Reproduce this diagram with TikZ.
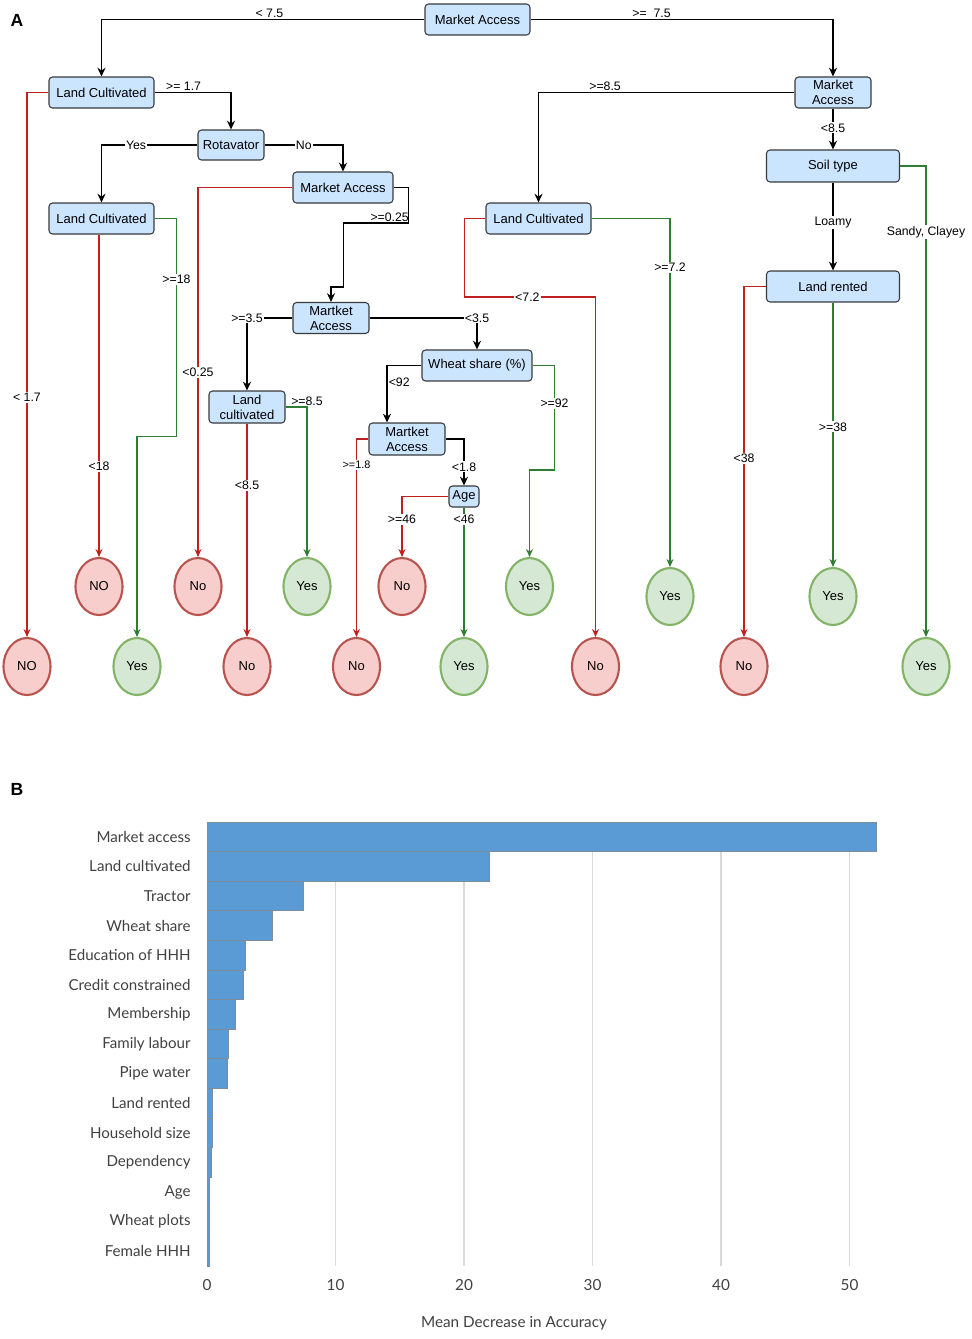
\documentclass[tikz,border=0pt]{standalone}
\usepackage{fontspec}
\setmainfont{Liberation Sans}
\newfontfamily\chartfont{Lato}
\usepackage{xcolor}
\usetikzlibrary{shapes.geometric,arrows.meta,positioning}

\definecolor{splitfill}{HTML}{CCE5FF}
\definecolor{splitline}{HTML}{36393D}
\definecolor{nofill}{HTML}{F8CECC}
\definecolor{noline}{HTML}{B85450}
\definecolor{yesfill}{HTML}{D5E8D4}
\definecolor{yesline}{HTML}{82B366}
\definecolor{noedge}{HTML}{C0201E}
\definecolor{yesedge}{HTML}{2E7D32}
\definecolor{barblue}{HTML}{5B9BD5}
\definecolor{barline}{HTML}{7F8C99}
\definecolor{gridgray}{HTML}{D9D9D9}
\definecolor{labelgray}{HTML}{404040}

\tikzset{
  split/.style={draw=splitline, fill=splitfill, rounded corners=2pt, line width=0.6pt,
    inner sep=0pt, align=center, font=\fontsize{7.4}{8.5}\selectfont},
  leafno/.style={ellipse, draw=noline, fill=nofill, line width=1.2pt, inner sep=0pt,
    minimum width=0.94cm, minimum height=1.14cm, font=\fontsize{7.4}{8.5}\selectfont},
  leafyes/.style={leafno, draw=yesline, fill=yesfill},
  cond/.style={fill=white, inner sep=0.6pt, font=\fontsize{7}{8}\selectfont},
  blk/.style={draw=black, line width=0.8pt, -{Stealth[length=5pt,width=4.6pt]}},
  noarc/.style={draw=noedge, line width=0.7pt, -{Stealth[length=4.5pt,width=4pt]}},
  yesarc/.style={draw=yesedge, line width=0.7pt, -{Stealth[length=4.5pt,width=4pt]}},
  bar/.style={fill=barblue, draw=barline, line width=0.4pt},
  gridline/.style={draw=gridgray, line width=0.6pt},
  barlabel/.style={anchor=east, inner sep=0pt, text=labelgray, font=\chartfont\fontsize{8.6}{10}\selectfont},
  ticklabel/.style={text=labelgray, font=\chartfont\fontsize{8.7}{10}\selectfont},
  panel/.style={font=\bfseries\fontsize{10}{12}\selectfont}
}

\begin{document}
\begin{tikzpicture}[x=0.02cm, y=-0.02cm]
    \useasboundingbox (0,0) rectangle (972,1339);

    % panel A: decision tree
    \node[panel] (panelA) at (17,20) {A};

    \node[split, minimum width=2.1cm, minimum height=0.62cm] (root) at (477.5,19.5) {Market Access};
    \node[split, minimum width=2.1cm, minimum height=0.62cm] (L1) at (101.5,92.5) {Land Cultivated};
    \node[split, minimum width=1.52cm, minimum height=0.62cm] (R1) at (833,92.5) {Market\\Access};
    \node[split, minimum width=1.32cm, minimum height=0.6cm] (rot) at (231,145) {Rotavator};
    \node[split, minimum width=2.1cm, minimum height=0.62cm] (L2) at (101.5,218.5) {Land Cultivated};
    \node[split, minimum width=2.0cm, minimum height=0.62cm] (M1) at (343,187.5) {Market Access};
    \node[split, minimum width=2.1cm, minimum height=0.62cm] (R2) at (538.5,218.5) {Land Cultivated};
    \node[split, minimum width=2.66cm, minimum height=0.64cm] (soil) at (833,166) {Soil type};
    \node[split, minimum width=2.66cm, minimum height=0.62cm] (rent) at (833,286.5) {Land rented};
    \node[split, minimum width=1.52cm, minimum height=0.62cm] (M2) at (331,318) {Martket\\Access};
    \node[split, minimum width=2.2cm, minimum height=0.62cm] (ws) at (477,365.5) {Wheat share (\%)};
    \node[split, minimum width=1.52cm, minimum height=0.64cm] (M3) at (247,407) {Land\\cultivated};
    \node[split, minimum width=1.52cm, minimum height=0.64cm] (M4) at (407,439) {Martket\\Access};
    \node[split, minimum width=0.6cm, minimum height=0.42cm] (age) at (464,496.5) {Age};

    % leaves
    \node[leafno] (noA) at (27,666.5) {NO};
    \node[leafno] (noB) at (99,586.5) {NO};
    \node[leafyes] (yesA) at (137,666.5) {Yes};
    \node[leafno] (noC) at (198,586.5) {No};
    \node[leafno] (noD) at (247,666.5) {No};
    \node[leafyes] (yesB) at (307,586.5) {Yes};
    \node[leafno] (noE) at (356.5,666.5) {No};
    \node[leafno] (noF) at (402,586.5) {No};
    \node[leafyes] (yesD) at (464,666.5) {Yes};
    \node[leafyes] (yesC) at (529.5,586.5) {Yes};
    \node[leafno] (noG) at (595.5,666.5) {No};
    \node[leafyes] (yesE) at (670,596.5) {Yes};
    \node[leafno] (noH) at (744,666.5) {No};
    \node[leafyes] (yesG) at (833,596.5) {Yes};
    \node[leafyes] (yesF) at (926,666.5) {Yes};

    % splits
    \draw[blk] (root.west) -| (L1.north) node[cond, pos=0.24, above, fill=none] {< 7.5};
    \draw[blk] (root.east) -| (R1.north) node[cond, pos=0.2, above, fill=none] {>=~ 7.5};
    \draw[noarc] (L1.west) -| (noA.north) node[cond, pos=0.78] {< 1.7};
    \draw[blk] (L1.east) -| (rot.north) node[cond, pos=0.19, above, fill=none] {>= 1.7};
    \draw[blk] (rot.west) -| (L2.north) node[cond, pos=0.32] {Yes};
    \draw[blk] (rot.east) -| (M1.north) node[cond, pos=0.25] {No};
    \draw[noarc] (noB.north |- L2.south) -- (noB.north) node[cond, pos=0.72] {<18};
    \draw[yesarc] (L2.east) -- ++(22,0) -- ++(0,218) node[cond, pos=0.28] {>=18} -| (yesA.north);
    \draw[noarc] (M1.west) -| (noC.north) node[cond, pos=0.75] {<0.25};
    \draw[blk] (M1.east) -- ++(15,0) -- ++(0,35.5) -- ++(-65,0) node[cond, pos=0.29, above, fill=none] {>=0.25}
        -- ++(0,64) -| (M2.north);
    \draw[blk] (M2.west) -| (M3.north) node[cond, pos=0.5] {>=3.5};
    \draw[blk] (M2.east) -| (ws.north) node[cond, pos=0.5] {<3.5};
    \draw[noarc] (M3.south) -- (noD.north) node[cond, pos=0.29] {<8.5};
    \draw[yesarc] (M3.east) -| (yesB.north) node[cond, pos=0.5, above, fill=none] {>=8.5};
    \draw[blk] (ws.west) -| ([xshift=-0.4cm]M4.north) node[cond, pos=0.65, right] {<92};
    \draw[yesarc] (ws.east) -- ++(22,0) -- ++(0,104.5) node[cond, pos=0.36] {>=92} -| (yesC.north);
    \draw[noarc] (M4.west) -| (noE.north) node[cond, pos=0.565, font=\fontsize{6.2}{7}\selectfont] {>=1.8};
    \draw[blk] (M4.east) -| (age.north) node[cond, pos=0.8] {<1.8};
    \draw[noarc] (age.west) -| (noF.north) node[cond, pos=0.69] {>=46};
    \draw[yesarc] (age.south) -- (yesD.north) node[cond, pos=0.09] {<46};
    \draw[blk] (R1.west) -| (R2.north) node[cond, pos=0.37, above, fill=none] {>=8.5};
    \draw[blk] (R1.south) -- (soil.north) node[cond, pos=0.47] {<8.5};
    \draw[noarc] (R2.west) -- ++(-21,0) -- ++(0,78.5) -| (noG.north) node[cond, pos=0.24] {<7.2};
    \draw[yesarc] (R2.east) -| (yesE.north) node[cond, pos=0.57] {>=7.2};
    \draw[blk] (soil.south) -- (rent.north) node[cond, pos=0.45] {Loamy};
    \draw[yesarc] (soil.east) -| (yesF.north) node[cond, pos=0.57] {Sandy, Clayey};
    \draw[noarc] (rent.west) -| (noH.north) node[cond, pos=0.745] {<38};
    \draw[yesarc] (rent.south) -- (yesG.north) node[cond, pos=0.47] {>=38};

    % panel B: variable importance
    \node[panel] (panelB) at (17,789) {B};

    \foreach \t in {10,20,...,50}
        \draw[gridline] (207+12.85*\t,822) -- (207+12.85*\t,1266);
    \foreach \v/\name [count=\i from 0] in {52.1/Market access, 22.0/Land cultivated, 7.5/Tractor,
            5.1/Wheat share, 2.95/Education of HHH, 2.8/Credit constrained, 2.2/Membership,
            1.65/Family labour, 1.55/Pipe water, 0.4/Land rented, 0.4/Household size,
            0.35/Dependency, 0.2/Age, 0.2/Wheat plots, 0.2/Female HHH} {
        \draw[bar] (207,822+29.6*\i) rectangle (207+12.85*\v,851.6+29.6*\i);
        \node[barlabel] (lab\i) at (191,836.8+29.6*\i) {\name};
    }
    \foreach \t in {0,10,...,50}
        \node[ticklabel] (tick\t) at (207+12.85*\t,1285) {\t};
    \node[ticklabel] (xtitle) at (514,1323) {Mean Decrease in Accuracy};
\end{tikzpicture}
\end{document}
